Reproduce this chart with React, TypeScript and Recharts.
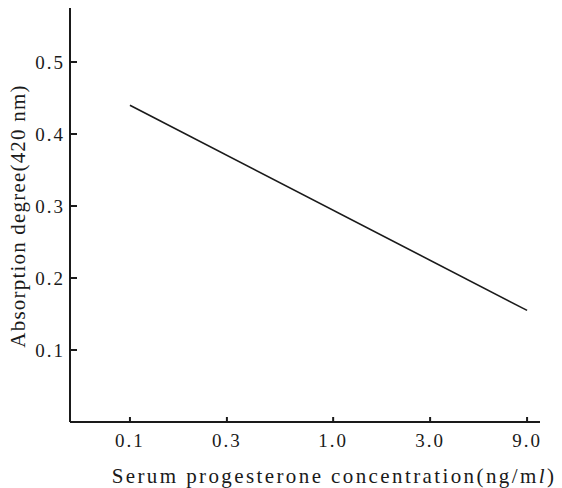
import { Label, Line, LineChart, XAxis, YAxis } from "recharts";

// log-spaced concentration axis
const concentration = [0.1, 9.0];
const absorption = [0.44, 0.155];

const xTicks = [0.1, 0.3, 1, 3, 9];
const xTickLabels = ["0.1", "0.3", "1.0", "3.0", "9.0"];
const yTicks = [0.1, 0.2, 0.3, 0.4, 0.5];
const yTickLabels = ["0.1", "0.2", "0.3", "0.4", "0.5"];

const xTitle = "Serum progesterone concentration(ng/m";
const yTitle = "Absorption degree(420 nm)";

const data = concentration.map((c, i) => ({ c, a: absorption[i] }));

const FONT = '"Liberation Serif", "DejaVu Serif", serif';
const INK = "#1a1a1a";

function XTick({ x, y, payload }: any) {
  const i = xTicks.indexOf(payload.value);
  return (
    <text
      x={x}
      y={Number(y) + 25}
      textAnchor="middle"
      fontFamily={FONT}
      fontSize={19}
      letterSpacing={2}
      fill={INK}
    >
      {i >= 0 ? xTickLabels[i] : payload.value}
    </text>
  );
}

function YTick({ x, y, payload }: any) {
  const i = yTicks.indexOf(payload.value);
  return (
    <text
      x={Number(x) - 5}
      y={Number(y) + 7}
      textAnchor="end"
      fontFamily={FONT}
      fontSize={19}
      letterSpacing={2}
      fill={INK}
    >
      {i >= 0 ? yTickLabels[i] : payload.value}
    </text>
  );
}

export default function App() {
  return (
    <div style={{ position: "absolute", left: 0, top: 0, background: "#fff" }}>
      <LineChart
        width={562}
        height={488}
        data={data}
        margin={{ top: 8, right: 22, bottom: 36, left: 0 }}
      >
        <XAxis
          dataKey="c"
          type="number"
          scale="log"
          domain={[0.0507, 10.42]}
          allowDataOverflow
          ticks={xTicks}
          tick={<XTick />}
          tickLine={{ stroke: INK, strokeWidth: 2 }}
          tickSize={-5}
          tickMargin={5}
          height={30}
          axisLine={{ stroke: INK, strokeWidth: 2 }}
        >
          <Label
            content={({ viewBox }: any) => {
              const vb = viewBox ?? { x: 70, y: 422, width: 470, height: 30 };
              return (
                <text
                  x={vb.x + vb.width / 2 + 29}
                  y={vb.y + 61}
                  textAnchor="middle"
                  fontFamily={FONT}
                  fontSize={21}
                  letterSpacing={2.4}
                  fill={INK}
                >
                  {xTitle}
                  <tspan fontStyle="italic">l</tspan>)
                </text>
              );
            }}
          />
        </XAxis>
        <YAxis
          type="number"
          domain={[0, 0.575]}
          allowDataOverflow
          ticks={yTicks}
          tick={<YTick />}
          tickLine={{ stroke: INK, strokeWidth: 2 }}
          tickSize={-7}
          tickMargin={7}
          width={70}
          axisLine={{ stroke: INK, strokeWidth: 2 }}
        >
          <Label
            content={({ viewBox }: any) => {
              const vb = viewBox ?? { x: 0, y: 8, width: 70, height: 414 };
              const cx = vb.x + 25;
              const cy = vb.y + vb.height / 2 + 1;
              return (
                <text
                  x={cx}
                  y={cy}
                  transform={`rotate(-90 ${cx} ${cy})`}
                  textAnchor="middle"
                  fontFamily={FONT}
                  fontSize={21}
                  letterSpacing={1.2}
                  fill={INK}
                >
                  {yTitle}
                </text>
              );
            }}
          />
        </YAxis>
        <Line
          dataKey="a"
          type="linear"
          stroke={INK}
          strokeWidth={1.6}
          dot={false}
          isAnimationActive={false}
        />
      </LineChart>
    </div>
  );
}
